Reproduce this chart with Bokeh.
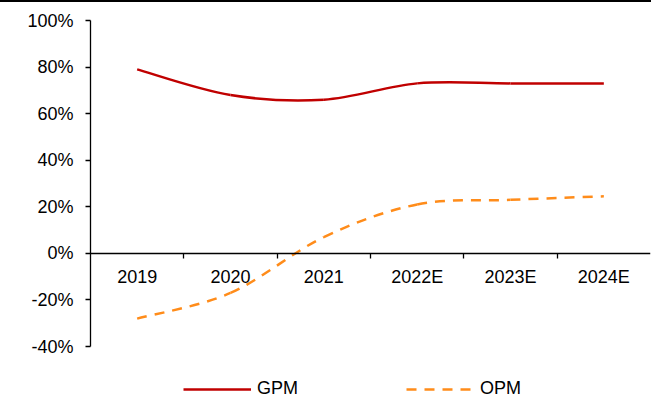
import numpy as np
from bokeh.plotting import figure
from bokeh.models import (Range1d, FixedTicker, LinearAxis, PrintfTickFormatter,
                          CustomJSTickFormatter, Legend, LegendItem)
from bokeh.embed import file_html
from bokeh.resources import INLINE

# ---- data ----
categories = ["2019", "2020", "2021", "2022E", "2023E", "2024E"]
gpm = [79, 68, 66, 73, 73, 73]
opm = [-28, -17, 7, 21, 23, 24.5]
y_ticks = [-40, -20, 0, 20, 40, 60, 80, 100]
y_min, y_max = -40, 100

FONT = "Liberation Sans"
RED = "#C00000"
ORANGE = "#FF8C1A"

n = len(categories)
xc = np.arange(n) + 0.5  # category centres on a numeric scale

# frame extends below the axis to leave room for the legend
p = figure(width=651, height=399, output_backend="svg", toolbar_location=None,
           x_range=Range1d(0, n), y_range=Range1d(y_min - 23.6, y_max),
           min_border_left=90, min_border_right=1, min_border_top=18,
           min_border_bottom=0, x_axis_type=None,
           styles={"border-top": "2px solid black"})
p.outline_line_color = None
p.xgrid.visible = False
p.ygrid.visible = False
p.background_fill_color = "white"
p.border_fill_color = "white"

# y axis
ya = p.yaxis[0]
ya.bounds = (y_min, y_max)
ya.ticker = FixedTicker(ticks=y_ticks)
ya.formatter = PrintfTickFormatter(format="%d%%")
ya.axis_line_color = "black"
ya.axis_line_width = 1.3
ya.major_tick_line_color = "black"
ya.major_tick_line_width = 1.3
ya.major_tick_in = 0
ya.major_tick_out = 5
ya.minor_tick_line_color = None
ya.major_label_standoff = 12
ya.major_label_text_font = FONT
ya.major_label_text_font_size = "18px"
ya.major_label_text_color = "black"

# x axis at y = 0: boundary ticks
xa1 = LinearAxis(fixed_location=0,
                 ticker=FixedTicker(ticks=list(range(1, n))),
                 formatter=CustomJSTickFormatter(code="return ''"))
xa1.axis_line_color = "black"
xa1.axis_line_width = 1.3
xa1.major_tick_line_color = "black"
xa1.major_tick_line_width = 1.3
xa1.major_tick_in = 0
xa1.major_tick_out = 5
xa1.minor_tick_line_color = None
p.add_layout(xa1, "below")

# x axis labels at category centres
xa2 = LinearAxis(fixed_location=0,
                 ticker=FixedTicker(ticks=list(xc)),
                 major_label_overrides={float(x): c for x, c in zip(xc, categories)})
xa2.axis_line_color = None
xa2.major_tick_line_color = None
xa2.minor_tick_line_color = None
xa2.major_label_standoff = 8
xa2.major_label_text_font = FONT
xa2.major_label_text_font_size = "18px"
xa2.major_label_text_color = "black"
p.add_layout(xa2, "below")


def smooth_segments(xs, ys):
    xs = np.asarray(xs, float)
    ys = np.asarray(ys, float)
    m = len(xs)
    xp = np.concatenate([[xs[0]], xs, [xs[-1]]])
    yp = np.concatenate([[ys[0]], ys, [ys[-1]]])
    x0, y0 = xs[:-1], ys[:-1]
    x1, y1 = xs[1:], ys[1:]
    cx0 = xp[1:m] + (xp[2:m + 1] - xp[0:m - 1]) / 6
    cy0 = yp[1:m] + (yp[2:m + 1] - yp[0:m - 1]) / 6
    cx1 = xp[2:m + 1] - (xp[3:m + 2] - xp[1:m]) / 6
    cy1 = yp[2:m + 1] - (yp[3:m + 2] - yp[1:m]) / 6
    return dict(x0=x0, y0=y0, x1=x1, y1=y1, cx0=cx0, cy0=cy0, cx1=cx1, cy1=cy1)


r_g = p.bezier(**smooth_segments(xc, gpm), line_color=RED, line_width=2.5)
r_o = p.bezier(**smooth_segments(xc, opm), line_color=ORANGE, line_width=2.5,
               line_dash="10 8")

legend = Legend(items=[LegendItem(label="GPM", renderers=[r_g], index=0),
                       LegendItem(label="OPM", renderers=[r_o], index=0)],
                orientation="horizontal", location=(93, 2),
                spacing=108, glyph_width=68, glyph_height=20, label_height=20,
                label_standoff=6, padding=0, margin=0,
                border_line_color=None, background_fill_alpha=0,
                label_text_font=FONT, label_text_font_size="18px",
                label_text_color="black")
p.add_layout(legend, "center")

open("out.html", "w").write(file_html(p, INLINE))
